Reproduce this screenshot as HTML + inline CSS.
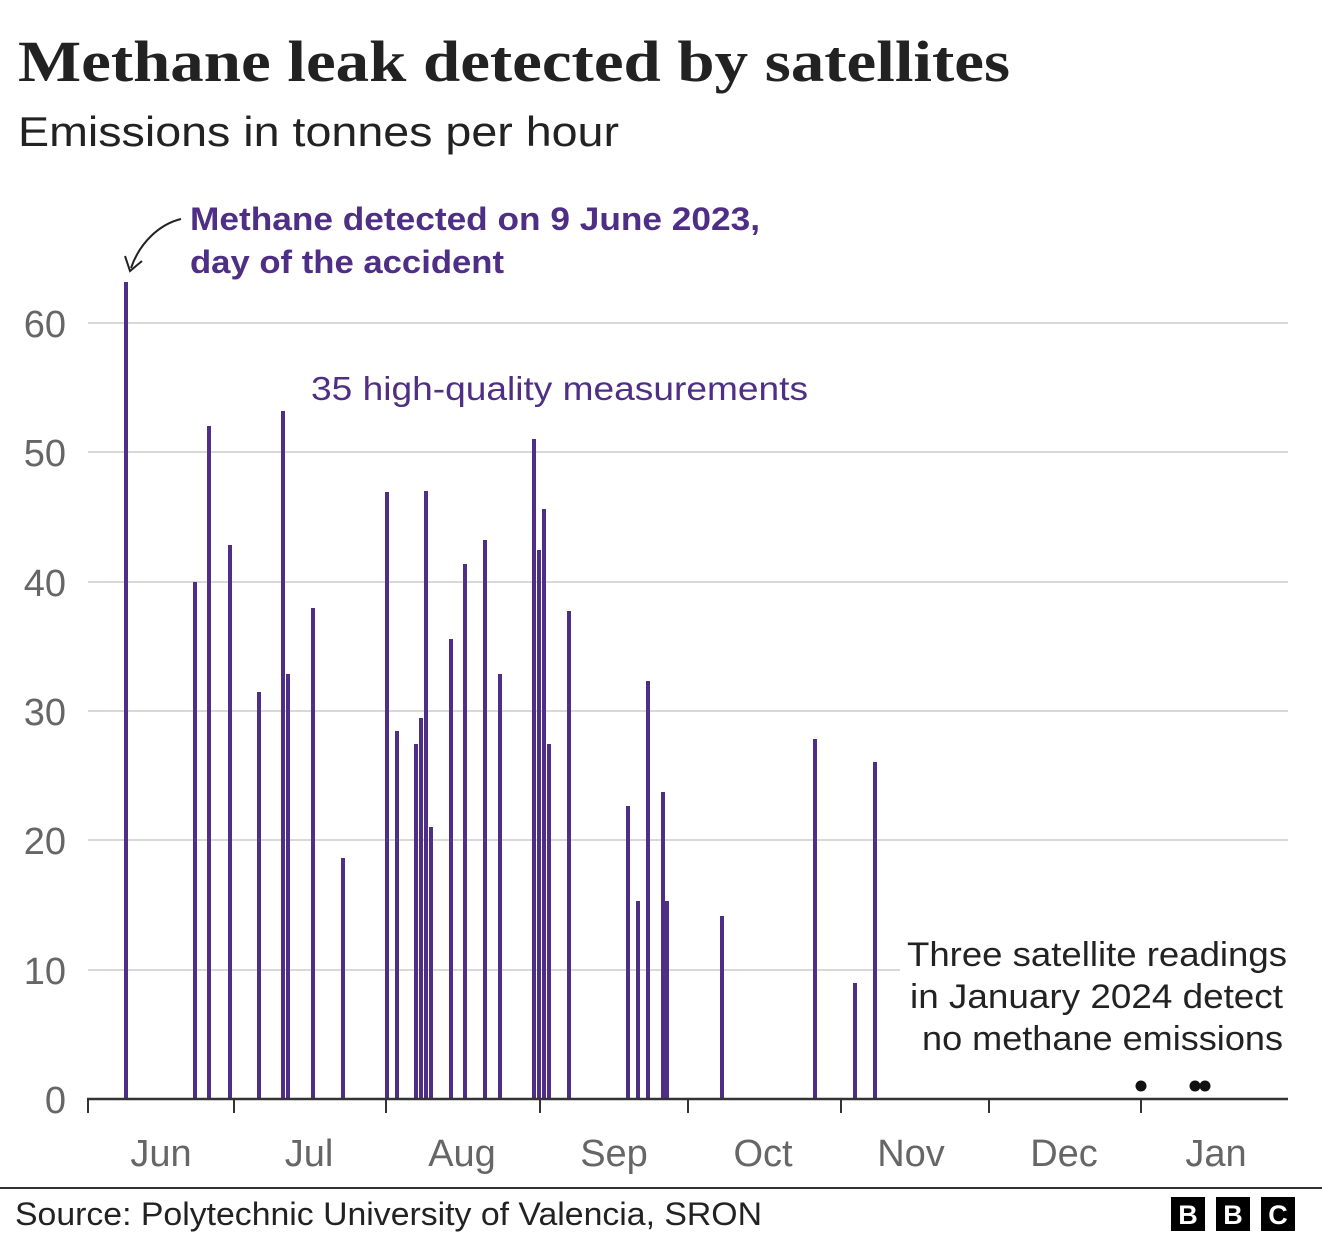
<!DOCTYPE html>
<html><head><meta charset="utf-8"><style>
body{margin:0;background:#fff;width:1322px;height:1239px;overflow:hidden}
svg{display:block}
</style></head><body>
<svg width="1322" height="1239" xmlns="http://www.w3.org/2000/svg" font-family="Liberation Sans, sans-serif">
<text x="18" y="81" font-family="Liberation Serif, serif" font-weight="bold" font-size="58" fill="#222" textLength="992" lengthAdjust="spacingAndGlyphs">Methane leak detected by satellites</text>
<text x="18" y="146" font-size="42" fill="#222" textLength="601" lengthAdjust="spacingAndGlyphs">Emissions in tonnes per hour</text>
<g stroke="#cccccc" stroke-width="1.5">
<line x1="88" x2="1288" y1="323" y2="323"/>
<line x1="88" x2="1288" y1="452" y2="452"/>
<line x1="88" x2="1288" y1="582" y2="582"/>
<line x1="88" x2="1288" y1="711" y2="711"/>
<line x1="88" x2="1288" y1="840" y2="840"/>
<line x1="88" x2="900" y1="970" y2="970"/>
</g>
<g font-size="38" fill="#666" text-anchor="end">
<text x="66" y="337">60</text><text x="66" y="466">50</text><text x="66" y="596">40</text>
<text x="66" y="725">30</text><text x="66" y="854">20</text><text x="66" y="984">10</text><text x="66" y="1113">0</text>
</g>
<g fill="#4f2f85">
<rect x="124" y="282" width="4" height="817"/>
<rect x="193" y="582" width="4" height="517"/>
<rect x="207" y="426" width="4" height="673"/>
<rect x="228" y="545" width="4" height="554"/>
<rect x="257" y="692" width="4" height="407"/>
<rect x="281" y="411" width="4" height="688"/>
<rect x="286" y="674" width="4" height="425"/>
<rect x="311" y="608" width="4" height="491"/>
<rect x="341" y="858" width="4" height="241"/>
<rect x="385" y="492" width="4" height="607"/>
<rect x="395" y="731" width="4" height="368"/>
<rect x="414" y="744" width="4" height="355"/>
<rect x="419" y="718" width="4" height="381"/>
<rect x="424" y="491" width="4" height="608"/>
<rect x="429" y="827" width="4" height="272"/>
<rect x="449" y="639" width="4" height="460"/>
<rect x="463" y="564" width="4" height="535"/>
<rect x="483" y="540" width="4" height="559"/>
<rect x="498" y="674" width="4" height="425"/>
<rect x="532" y="439" width="4" height="660"/>
<rect x="537" y="550" width="4" height="549"/>
<rect x="542" y="509" width="4" height="590"/>
<rect x="547" y="744" width="4" height="355"/>
<rect x="567" y="611" width="4" height="488"/>
<rect x="626" y="806" width="4" height="293"/>
<rect x="636" y="901" width="4" height="198"/>
<rect x="646" y="681" width="4" height="418"/>
<rect x="661" y="792" width="4" height="307"/>
<rect x="665" y="901" width="4" height="198"/>
<rect x="720" y="916" width="4" height="183"/>
<rect x="813" y="739" width="4" height="360"/>
<rect x="853" y="983" width="4" height="116"/>
<rect x="873" y="762" width="4" height="337"/>
</g>
<g fill="#111"><circle cx="1141" cy="1086" r="5.5"/><circle cx="1195" cy="1086" r="5.5"/><circle cx="1205" cy="1086" r="5.5"/></g>
<line x1="87" x2="1288" y1="1099" y2="1099" stroke="#333" stroke-width="2.5"/>
<g stroke="#333" stroke-width="2">
<line x1="88" x2="88" y1="1099" y2="1113"/><line x1="234" x2="234" y1="1099" y2="1113"/>
<line x1="386" x2="386" y1="1099" y2="1113"/><line x1="540" x2="540" y1="1099" y2="1113"/>
<line x1="688" x2="688" y1="1099" y2="1113"/><line x1="841" x2="841" y1="1099" y2="1113"/>
<line x1="989" x2="989" y1="1099" y2="1113"/><line x1="1141" x2="1141" y1="1099" y2="1113"/>
</g>
<g font-size="38" fill="#666" text-anchor="middle">
<text x="161" y="1166">Jun</text><text x="309" y="1166">Jul</text><text x="462" y="1166">Aug</text>
<text x="614" y="1166">Sep</text><text x="763" y="1166">Oct</text><text x="911" y="1166">Nov</text>
<text x="1064" y="1166">Dec</text><text x="1216" y="1166">Jan</text>
</g>
<g font-size="32" font-weight="bold" fill="#4f2f85">
<text x="190" y="230" textLength="570" lengthAdjust="spacingAndGlyphs">Methane detected on 9 June 2023,</text>
<text x="190" y="273" textLength="314" lengthAdjust="spacingAndGlyphs">day of the accident</text>
</g>
<path d="M181 219 C160 224 140 242 131 268" fill="none" stroke="#222" stroke-width="2"/>
<path d="M125 256 L130 271 L142 261" fill="none" stroke="#222" stroke-width="2"/>
<text x="311" y="400" font-size="33" fill="#4f2f85" textLength="497" lengthAdjust="spacingAndGlyphs">35 high-quality measurements</text>
<g font-size="34" fill="#222" text-anchor="end">
<text x="1287" y="966" textLength="380" lengthAdjust="spacingAndGlyphs">Three satellite readings</text>
<text x="1283" y="1008" textLength="373" lengthAdjust="spacingAndGlyphs">in January 2024 detect</text>
<text x="1283" y="1050" textLength="361" lengthAdjust="spacingAndGlyphs">no methane emissions</text>
</g>
<line x1="0" x2="1322" y1="1188" y2="1188" stroke="#333" stroke-width="2"/>
<text x="15" y="1225" font-size="32" fill="#222" textLength="747" lengthAdjust="spacingAndGlyphs">Source: Polytechnic University of Valencia, SRON</text>
<g><rect x="1171" y="1197" width="34" height="34" fill="#000"/><rect x="1216" y="1197" width="34" height="34" fill="#000"/><rect x="1261" y="1197" width="34" height="34" fill="#000"/>
<g font-size="27" font-weight="bold" fill="#fff" text-anchor="middle"><text x="1188" y="1224">B</text><text x="1233" y="1224">B</text><text x="1278" y="1224">C</text></g></g>
</svg>
</body></html>
